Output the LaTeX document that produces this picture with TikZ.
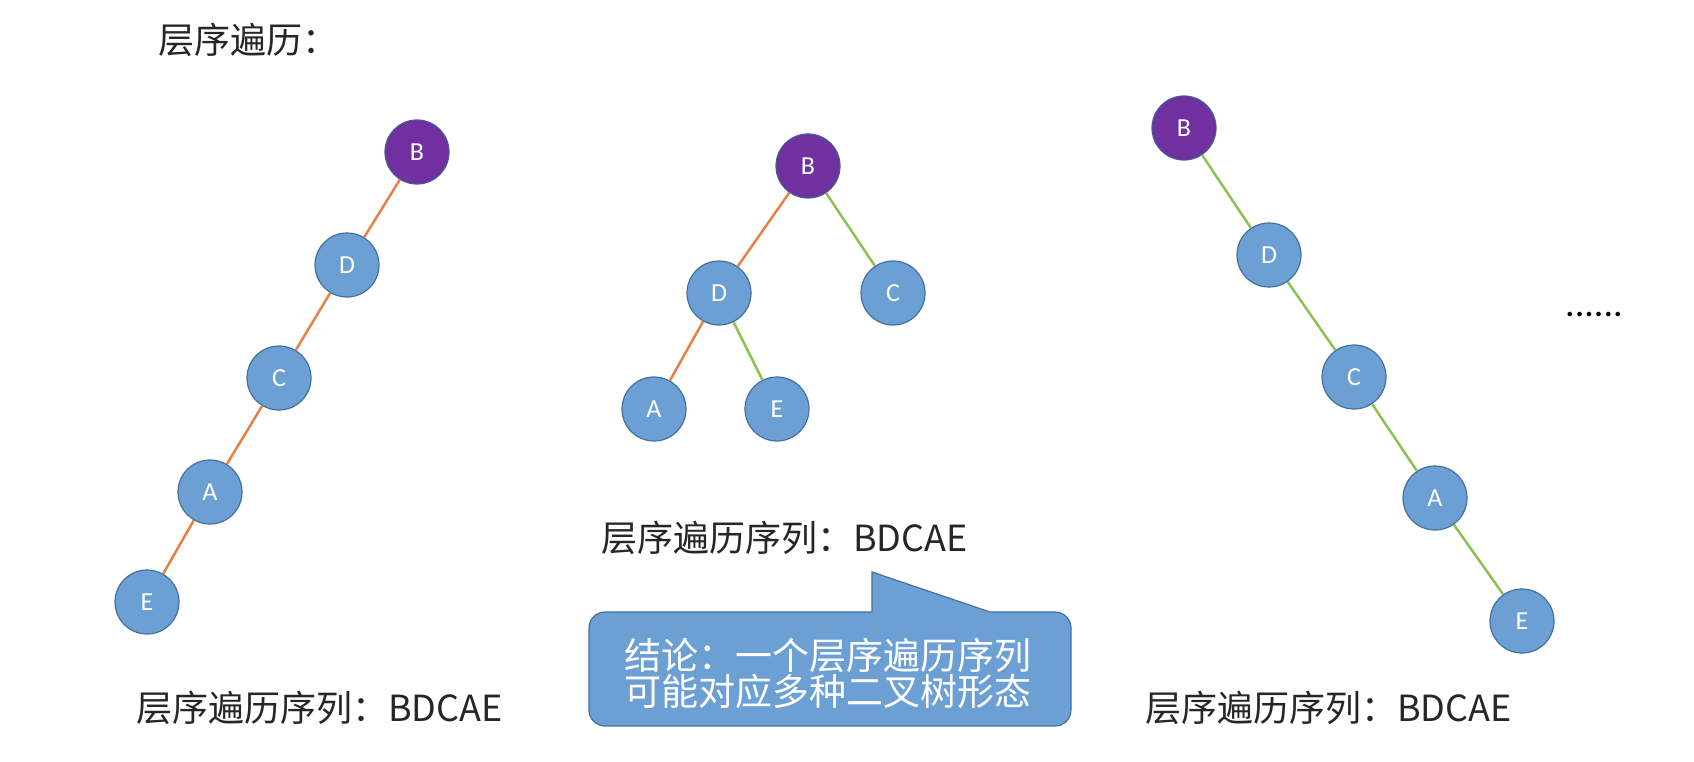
\documentclass[tikz,border=0pt]{standalone}
\usepackage{fontspec}
\newfontfamily\cjk{Noto Sans CJK SC}
\newfontfamily\lat{Carlito}
\definecolor{nodeblue}{RGB}{108,160,212}
\definecolor{nodeborder}{RGB}{66,113,158}
\definecolor{rootpurple}{RGB}{112,48,160}
\definecolor{rootborder}{RGB}{70,90,150}
\definecolor{edgeorange}{RGB}{230,130,70}
\definecolor{edgegreen}{RGB}{140,195,80}
\begin{document}
\begin{tikzpicture}[x=1pt,y=-1pt,
  tn/.style={circle, minimum size=64pt, inner sep=0pt, fill=nodeblue, draw=nodeborder, line width=1.2pt, text=white, font=\lat\fontsize{26}{26}\selectfont},
  rootn/.style={tn, fill=rootpurple, draw=rootborder},
  oe/.style={draw=edgeorange, line width=2.5pt},
  ge/.style={draw=edgegreen, line width=2.5pt},
  lbl/.style={font=\cjk\fontsize{36}{36}\selectfont, text=black!85, inner sep=0pt, anchor=west},
  calloutshape/.style={fill=nodeblue, draw=nodeborder, line width=1.2pt}]
\useasboundingbox (0,0) rectangle (1694,762);
\fill[white] (0,0) rectangle (1694,762);

\node[lbl] (title) at (158,40) {层序遍历：};

% left tree
\node[rootn] (lB) at (417,152) {B};
\node[tn] (lD) at (347,265) {D};
\node[tn] (lC) at (279,378) {C};
\node[tn] (lA) at (210,492) {A};
\node[tn] (lE) at (147,602) {E};
\draw[oe] (lB) -- (lD);
\draw[oe] (lD) -- (lC);
\draw[oe] (lC) -- (lA);
\draw[oe] (lA) -- (lE);
\node[lbl] (llabel) at (136,708) {层序遍历序列：BDCAE};

% middle tree
\node[rootn] (mB) at (808,166) {B};
\node[tn] (mD) at (719,293) {D};
\node[tn] (mC) at (893,293) {C};
\node[tn] (mA) at (654,409) {A};
\node[tn] (mE) at (777,409) {E};
\draw[oe] (mB) -- (mD);
\draw[ge] (mB) -- (mC);
\draw[oe] (mD) -- (mA);
\draw[ge] (mD) -- (mE);
\node[lbl] (mlabel) at (601,538) {层序遍历序列：BDCAE};

% right tree
\node[rootn] (rB) at (1184,128) {B};
\node[tn] (rD) at (1269,255) {D};
\node[tn] (rC) at (1354,377) {C};
\node[tn] (rA) at (1435,498) {A};
\node[tn] (rE) at (1522,621) {E};
\draw[ge] (rB) -- (rD);
\draw[ge] (rD) -- (rC);
\draw[ge] (rC) -- (rA);
\draw[ge] (rA) -- (rE);
\node[lbl] (rlabel) at (1145,708) {层序遍历序列：BDCAE};

\node[font=\lat\fontsize{38}{38}\selectfont, inner sep=0pt] (dots) at (1594,314) {......};

% callout
\draw[calloutshape] (720,612) [rounded corners=16pt] -- (589,612) -- (589,726) -- (1071,726) -- (1071,612) [sharp corners] -- (990,612) -- (872,572) -- (872,612) -- cycle;
\node[font=\cjk\fontsize{37}{36}\selectfont, text=white, align=center, inner sep=0pt] (concl) at (828,673) {结论：一个层序遍历序列\\可能对应多种二叉树形态};
\end{tikzpicture}
\end{document}
